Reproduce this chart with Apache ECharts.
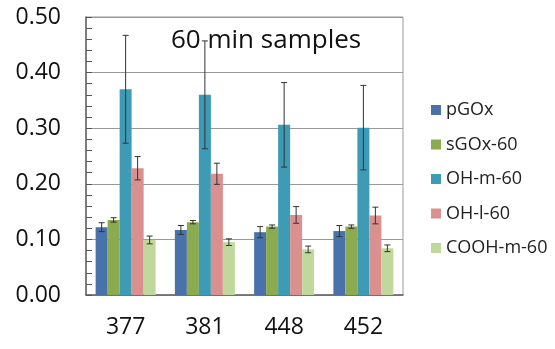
<!DOCTYPE html>
<html>
<head>
<meta charset="utf-8">
<script src="https://cdn.jsdelivr.net/npm/echarts@6/dist/echarts.min.js"></script>
<style>html,body{margin:0;padding:0;background:#fff}#c{width:555px;height:349px}</style>
</head>
<body>
<div id="c"></div>
<script>
const categories = ['377', '381', '448', '452'];
const seriesNames = ['pGOx', 'sGOx-60', 'OH-m-60', 'OH-l-60', 'COOH-m-60'];
const pGOx = [0.122, 0.117, 0.113, 0.115];
const sGOx60 = [0.135, 0.131, 0.123, 0.123];
const OHm60 = [0.370, 0.360, 0.306, 0.301];
const OHl60 = [0.228, 0.218, 0.144, 0.143];
const COOHm60 = [0.099, 0.095, 0.082, 0.084];
const err_pGOx = [0.008, 0.008, 0.010, 0.010];
const err_sGOx60 = [0.004, 0.003, 0.003, 0.003];
const err_OHm60 = [0.097, 0.097, 0.076, 0.076];
const err_OHl60 = [0.021, 0.019, 0.015, 0.015];
const err_COOHm60 = [0.007, 0.006, 0.006, 0.006];
const yTicks = ['0.00', '0.10', '0.20', '0.30', '0.40', '0.50'];
const titleText = '60 min samples';

const values = [pGOx, sGOx60, OHm60, OHl60, COOHm60];
const errs = [err_pGOx, err_sGOx60, err_OHm60, err_OHl60, err_COOHm60];
const colors = ['#4A72AA', '#8BAB4E', '#3D9BB5', '#D9908F', '#C0D89C'];
const BAR_W = 12;
const FONT = '"Open Sans", sans-serif';

const chart = echarts.init(document.getElementById('c'));
const series = [];
values.forEach((v, i) => {
  series.push({
    name: seriesNames[i], type: 'bar', data: v, barWidth: BAR_W, barGap: '0%',
    itemStyle: { color: colors[i] }, z: 2
  });
});
values.forEach((v, i) => {
  series.push({
    type: 'custom', name: seriesNames[i] + '_err', z: 5, silent: true,
    data: v.map((val, j) => [j, val, errs[i][j]]),
    renderItem: function (params, api) {
      const x = api.value(0), y = api.value(1), e = api.value(2);
      const offset = (i - 2) * BAR_W;
      const hi = api.coord([x, y + e]);
      const lo = api.coord([x, y - e]);
      const cx = hi[0] + offset;
      const cap = 3;
      const st = { stroke: '#333', lineWidth: 1 };
      return { type: 'group', children: [
        { type: 'line', shape: { x1: cx, y1: hi[1], x2: cx, y2: lo[1] }, style: st },
        { type: 'line', shape: { x1: cx - cap, y1: hi[1], x2: cx + cap, y2: hi[1] }, style: st },
        { type: 'line', shape: { x1: cx - cap, y1: lo[1], x2: cx + cap, y2: lo[1] }, style: st }
      ]};
    }
  });
});

chart.setOption({
  animation: false,
  backgroundColor: '#fff',
  grid: { left: 86, right: 152, top: 17, bottom: 54, show: true, borderColor: '#999', borderWidth: 1 },
  title: { text: titleText, left: 171, top: 28, padding: 0, textStyle: { fontFamily: FONT, fontSize: 26, fontWeight: 'normal', color: '#111' } },
  legend: {
    orient: 'vertical', left: 431, top: 101, padding: 0, itemWidth: 10, itemHeight: 10, itemGap: 16.5,
    icon: 'rect', data: seriesNames,
    textStyle: { fontFamily: FONT, fontSize: 18, color: '#222', lineHeight: 17 }
  },
  xAxis: {
    type: 'category', data: categories,
    axisLine: { lineStyle: { color: '#666', width: 1.5 } },
    axisTick: { show: true, alignWithLabel: true, inside: true, length: 5, lineStyle: { color: '#333' } },
    axisLabel: { fontFamily: FONT, fontSize: 23, color: '#111', margin: 21 },
    splitLine: { show: false }
  },
  yAxis: [{
    type: 'value', min: 0, max: 0.5, interval: 0.1,
    axisLine: { show: true, lineStyle: { color: '#666', width: 1.5 } },
    axisTick: { show: true, inside: true, length: 6, lineStyle: { color: '#555' } },
    minorTick: { show: false },
    axisLabel: { fontFamily: FONT, fontSize: 23, color: '#111', margin: 25,
      formatter: (val) => yTicks[Math.round(val * 10)] },
    splitLine: { show: true, lineStyle: { color: '#999', width: 1 } }
  }, {
    type: 'value', min: 0, max: 0.5, interval: 0.1, position: 'left', offset: -6,
    axisLine: { show: false }, axisTick: { show: false }, axisLabel: { show: false },
    splitLine: { show: false },
    minorTick: { show: true, splitNumber: 5, length: 6, lineStyle: { color: '#555' } }
  }],
  series: series
});
</script>
</body>
</html>
